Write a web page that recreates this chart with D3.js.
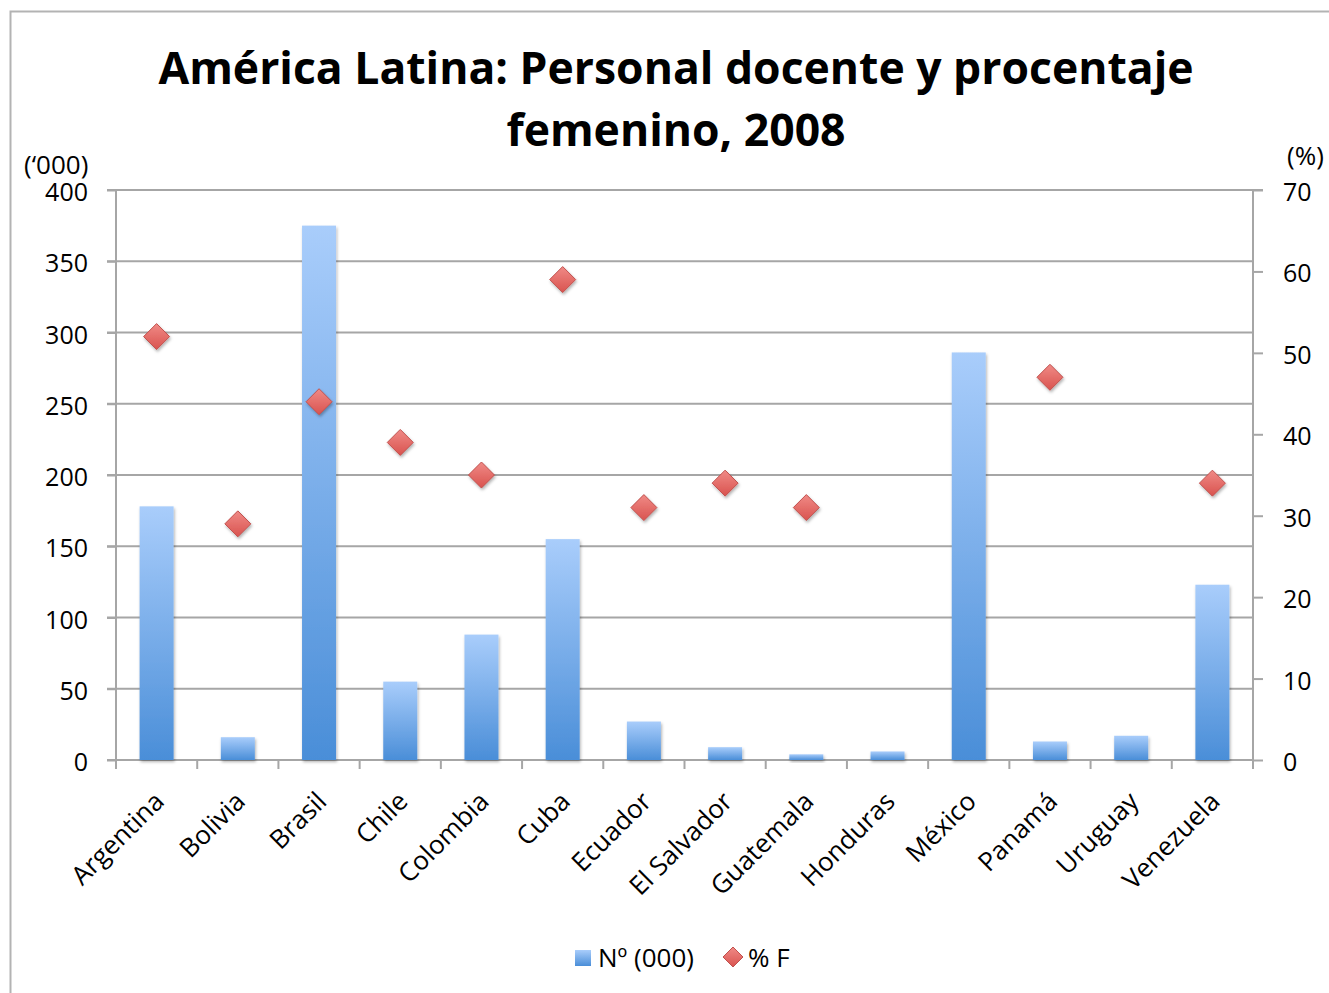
<!DOCTYPE html>
<html>
<head>
<meta charset="utf-8">
<script src="https://cdn.jsdelivr.net/npm/d3@7"></script>
<style>
  body { margin: 0; background: #fff; }
  text { font-family: "Open Sans", sans-serif; fill: #000; }
</style>
</head>
<body>
<div id="grafico"></div>
<script>
// datos
var paises = ["Argentina", "Bolivia", "Brasil", "Chile", "Colombia", "Cuba", "Ecuador",
              "El Salvador", "Guatemala", "Honduras", "México", "Panamá", "Uruguay", "Venezuela"];
var docentes = [178, 16, 375, 55, 88, 155, 27, 9, 4, 6, 286, 13, 17, 123];   // miles
var pct_fem = [52, 29, 44, 39, 35, 59, 31, 34, 31, null, null, 47, null, 34];
var ticks_izq = [0, 50, 100, 150, 200, 250, 300, 350, 400];
var ticks_der = [0, 10, 20, 30, 40, 50, 60, 70];
var titulo = ["América Latina: Personal docente y procentaje", "femenino, 2008"];

var width = 1329, height = 993;
var m = {left: 116, right: 1253, top: 190, bottom: 760};
var gris = "#a6a6a6";
var fuente = "\"Open Sans\", sans-serif";

var svg = d3.select("#grafico").append("svg")
            .attr("width", width)
            .attr("height", height);

var defs = svg.append("defs");

var grad = defs.append("linearGradient")
               .attr("id", "grad_barra")
               .attr("x1", "0%").attr("y1", "0%")
               .attr("x2", "0%").attr("y2", "100%");
grad.append("stop").attr("offset", "0%").attr("stop-color", "#a9cdfb");
grad.append("stop").attr("offset", "100%").attr("stop-color", "#4a8ed8");

var grad2 = defs.append("linearGradient")
                .attr("id", "grad_rombo")
                .attr("x1", "0%").attr("y1", "0%")
                .attr("x2", "0%").attr("y2", "100%");
grad2.append("stop").attr("offset", "0%").attr("stop-color", "#f08a86");
grad2.append("stop").attr("offset", "100%").attr("stop-color", "#d9534f");

var sombra = defs.append("filter").attr("id", "sombra")
                 .attr("x", "-50%").attr("y", "-50%").attr("width", "200%").attr("height", "200%");
sombra.append("feDropShadow")
      .attr("dx", 1).attr("dy", 2).attr("stdDeviation", 1.5)
      .attr("flood-color", "#000").attr("flood-opacity", 0.3);

// marco
svg.append("rect")
   .attr("x", 10.5).attr("y", 11.5)
   .attr("width", 1400).attr("height", 1100)
   .style("fill", "none")
   .style("stroke", "#b3b3b3")
   .style("stroke-width", 2);

// escalas
var x = d3.scaleBand()
          .domain(paises)
          .range([m.left, m.right]);

var y = d3.scaleLinear()
          .domain([0, 400])
          .range([m.bottom, m.top]);

var y2 = d3.scaleLinear()
           .domain([0, 70])
           .range([m.bottom, m.top]);

// cuadricula
svg.append("g")
   .selectAll("line")
   .data(ticks_izq)
   .enter()
   .append("line")
   .attr("x1", m.left - 9)
   .attr("x2", function(d){ return d == 400 ? m.right + 10 : m.right; })
   .attr("y1", function(d){ return y(d); })
   .attr("y2", function(d){ return y(d); })
   .style("stroke", gris)
   .style("stroke-width", 2);

// ejes
var eje_izq = svg.append("g")
                 .attr("transform", "translate(" + m.left + ",0)")
                 .call(d3.axisLeft(y).tickValues(ticks_izq).tickSize(9).tickPadding(19));

var eje_der = svg.append("g")
                 .attr("transform", "translate(" + m.right + ",0)")
                 .call(d3.axisRight(y2).tickValues(ticks_der).tickSize(10).tickPadding(20));

var eje_x = svg.append("g")
               .attr("transform", "translate(0," + m.bottom + ")")
               .call(d3.axisBottom(x).tickSize(0).tickFormat(""));

[eje_izq, eje_der, eje_x].forEach(function(g){
    g.select(".domain").remove();
    g.selectAll("line").style("stroke", gris).style("stroke-width", 2);
    g.selectAll("text")
     .style("font-size", "25px")
     .style("font-family", fuente)
     .attr("fill", "#000")
     .attr("dy", "0.42em");
});

// lineas de los ejes
svg.append("line")
   .attr("x1", m.left).attr("x2", m.left)
   .attr("y1", m.top).attr("y2", m.bottom + 8)
   .style("stroke", gris).style("stroke-width", 2);
svg.append("line")
   .attr("x1", m.right).attr("x2", m.right)
   .attr("y1", m.top).attr("y2", m.bottom + 8)
   .style("stroke", gris).style("stroke-width", 2);

// marcas del eje x (entre categorias)
var bordes = paises.map(function(p){ return x(p); }).concat([m.right]);
svg.append("g")
   .selectAll("line")
   .data(bordes)
   .enter()
   .append("line")
   .attr("x1", function(d){ return d; })
   .attr("x2", function(d){ return d; })
   .attr("y1", m.bottom)
   .attr("y2", m.bottom + 9)
   .style("stroke", gris)
   .style("stroke-width", 2);

// barras
var ancho = 34;
svg.append("g")
   .selectAll("rect")
   .data(docentes)
   .enter()
   .append("rect")
   .attr("x", function(d, i){ return x(paises[i]) + x.bandwidth() / 2 - ancho / 2; })
   .attr("y", function(d){ return y(d); })
   .attr("width", ancho)
   .attr("height", function(d){ return y(0) - y(d); })
   .style("fill", "url(#grad_barra)")
   .attr("filter", "url(#sombra)");

// rombos
var r = 13;
svg.append("g")
   .selectAll("path")
   .data(pct_fem.map(function(v, i){ return {pais: paises[i], v: v}; })
                .filter(function(d){ return d.v != null; }))
   .enter()
   .append("path")
   .attr("d", "M0," + (-r) + "L" + r + ",0L0," + r + "L" + (-r) + ",0Z")
   .attr("transform", function(d){
       return "translate(" + (x(d.pais) + x.bandwidth() / 2) + "," + y2(d.v) + ")";
   })
   .style("fill", "url(#grad_rombo)")
   .style("stroke", "#c0504d")
   .style("stroke-width", 1)
   .attr("filter", "url(#sombra)");

// etiquetas de paises
svg.append("g")
   .selectAll("text")
   .data(paises)
   .enter()
   .append("text")
   .attr("transform", function(d){
       return "translate(" + (x(d) + x.bandwidth() / 2 + 9) + "," + (m.bottom + 43) + ") rotate(-45)";
   })
   .attr("text-anchor", "end")
   .style("font-size", "26px")
   .text(function(d){ return d; });

// titulo
svg.append("g")
   .selectAll("text")
   .data(titulo)
   .enter()
   .append("text")
   .attr("x", 676)
   .attr("y", function(d, i){ return 84 + i * 62; })
   .attr("text-anchor", "middle")
   .style("font-size", "44.5px")
   .style("font-weight", "bold")
   .text(function(d){ return d; });

// unidades
svg.append("text")
   .attr("x", 24).attr("y", 174)
   .style("font-size", "26px")
   .text("(‘000)");
svg.append("text")
   .attr("x", 1287).attr("y", 165)
   .style("font-size", "26px")
   .text("(%)");

// leyenda
var ley = svg.append("g").attr("transform", "translate(575,958)");
ley.append("rect")
   .attr("x", 0).attr("y", -8)
   .attr("width", 16).attr("height", 16)
   .style("fill", "url(#grad_barra)");
ley.append("text")
   .attr("x", 23).attr("y", 9)
   .style("font-size", "26px")
   .text("Nº (000)");
ley.append("path")
   .attr("d", "M0,-10L10,0L0,10L-10,0Z")
   .attr("transform", "translate(158,-1)")
   .style("fill", "url(#grad_rombo)")
   .style("stroke", "#c0504d");
ley.append("text")
   .attr("x", 173).attr("y", 9)
   .style("font-size", "26px")
   .text("% F");
</script>
</body>
</html>
